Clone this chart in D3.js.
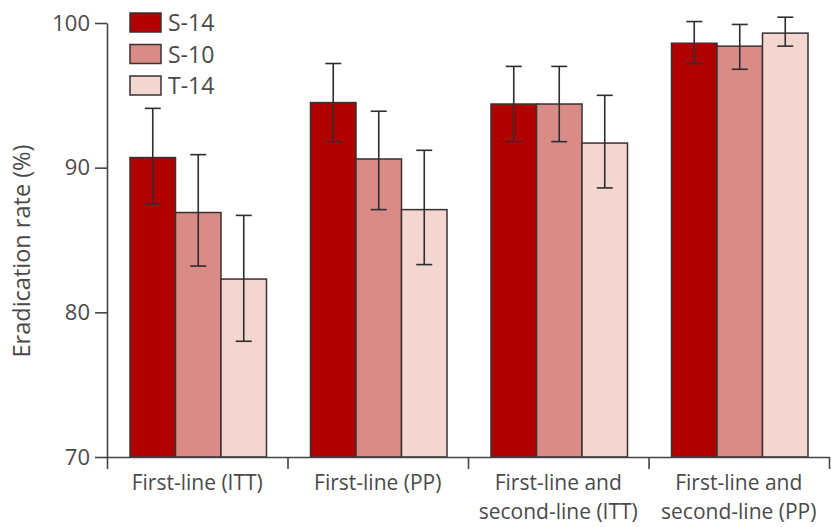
<!DOCTYPE html>
<html>
<head>
<meta charset="utf-8">
<script src="https://cdn.jsdelivr.net/npm/d3@7"></script>
<style>
  html, body { margin: 0; padding: 0; background: #fff; }
  svg { display: block; }
  text { font-family: "Open Sans", "Noto Sans", sans-serif; fill: #4a4a4a; }
</style>
</head>
<body>
<svg id="chart" width="831" height="527"></svg>
<script>
// Treatment groups and their eradication rates with 95% CI bounds
const categories = [
  ["First-line (ITT)"],
  ["First-line (PP)"],
  ["First-line and", "second-line (ITT)"],
  ["First-line and", "second-line (PP)"]
];
const seriesNames = ["S-14", "S-10", "T-14"];
const s14 = [90.7, 94.5, 94.4, 98.6];
const s14Low = [87.5, 91.8, 91.8, 97.2];
const s14High = [94.1, 97.2, 97.0, 100.1];
const s10 = [86.9, 90.6, 94.4, 98.4];
const s10Low = [83.2, 87.1, 91.8, 96.8];
const s10High = [90.9, 93.9, 97.0, 99.9];
const t14 = [82.3, 87.1, 91.7, 99.3];
const t14Low = [78.0, 83.3, 88.6, 98.4];
const t14High = [86.7, 91.2, 95.0, 100.4];
const yTicks = [70, 80, 90, 100];
const yTitle = "Eradication rate (%)";

const colors = ["#b10000", "#d98b86", "#f3d6d0"];
const series = [
  { name: seriesNames[0], values: s14, low: s14Low, high: s14High },
  { name: seriesNames[1], values: s10, low: s10Low, high: s10High },
  { name: seriesNames[2], values: t14, low: t14Low, high: t14High }
];

const svg = d3.select("#chart");
const plotLeft = 107, plotRight = 829, plotTop = 23, plotBottom = 457;
const axisColor = "#454545";

const x0 = d3.scaleBand().domain(d3.range(categories.length)).range([plotLeft, plotRight]).paddingInner(0).paddingOuter(0);
const x1 = d3.scaleBand().domain(d3.range(series.length)).range([0, 136.5]);
const groupOffset = (x0.bandwidth() - 136.5) / 2 + 1;
const y = d3.scaleLinear().domain([70, 100]).range([plotBottom, plotTop]);

// Bars
const groups = svg.append("g").selectAll("g")
  .data(categories.map((c, i) => i))
  .join("g")
  .attr("transform", i => `translate(${x0(i) + groupOffset},0)`);

groups.selectAll("rect")
  .data(i => series.map((s, k) => ({ k, v: s.values[i] })))
  .join("rect")
  .attr("x", d => x1(d.k))
  .attr("y", d => y(d.v))
  .attr("width", x1.bandwidth())
  .attr("height", d => y(70) - y(d.v))
  .attr("fill", d => colors[d.k])
  .attr("stroke", "#3a3030")
  .attr("stroke-width", 1.5);

// Error bars
const capHalf = 8;
const err = groups.selectAll("g.err")
  .data(i => series.map((s, k) => ({ k, lo: s.low[i], hi: s.high[i] })))
  .join("g")
  .attr("class", "err")
  .attr("stroke", "#2e2e2e")
  .attr("stroke-width", 1.6);
err.append("line")
  .attr("x1", d => x1(d.k) + x1.bandwidth() / 2)
  .attr("x2", d => x1(d.k) + x1.bandwidth() / 2)
  .attr("y1", d => y(d.lo))
  .attr("y2", d => y(d.hi));
err.append("line")
  .attr("x1", d => x1(d.k) + x1.bandwidth() / 2 - capHalf)
  .attr("x2", d => x1(d.k) + x1.bandwidth() / 2 + capHalf)
  .attr("y1", d => y(d.hi)).attr("y2", d => y(d.hi));
err.append("line")
  .attr("x1", d => x1(d.k) + x1.bandwidth() / 2 - capHalf)
  .attr("x2", d => x1(d.k) + x1.bandwidth() / 2 + capHalf)
  .attr("y1", d => y(d.lo)).attr("y2", d => y(d.lo));

// Y axis
const yAxis = svg.append("g")
  .attr("transform", `translate(${plotLeft},0)`)
  .call(d3.axisLeft(y).tickValues(yTicks).tickSize(12).tickSizeOuter(0).tickPadding(5));
yAxis.select(".domain").attr("stroke", axisColor).attr("stroke-width", 1.6);
yAxis.selectAll(".tick line").attr("stroke", axisColor).attr("stroke-width", 1.6);
yAxis.selectAll(".tick text")
  .attr("font-size", 22).attr("fill", "#4a4a4a")
  .style("font-family", '"Open Sans", sans-serif');

// X axis: ticks at group boundaries
const xb = d3.scaleLinear().domain([0, categories.length]).range([plotLeft, plotRight]);
const xAxis = svg.append("g")
  .attr("transform", `translate(0,${plotBottom})`)
  .call(d3.axisBottom(xb).tickValues(d3.range(categories.length + 1)).tickFormat("").tickSize(12).tickSizeOuter(0));
xAxis.select(".domain").attr("stroke", axisColor).attr("stroke-width", 1.6);
xAxis.selectAll(".tick line").attr("stroke", axisColor).attr("stroke-width", 1.6);

// Category labels
const labels = svg.append("g").selectAll("text")
  .data(categories)
  .join("text")
  .attr("text-anchor", "middle")
  .attr("font-size", 21)
  .attr("x", (c, i) => x0(i) + x0.bandwidth() / 2)
  .attr("y", plotBottom + 33);
labels.selectAll("tspan")
  .data(c => c)
  .join("tspan")
  .attr("x", function () { return this.parentNode.getAttribute("x"); })
  .attr("dy", (d, j) => j === 0 ? 0 : 28.6)
  .text(d => d);

// Y title
svg.append("text")
  .attr("transform", "translate(30,251) rotate(-90)")
  .attr("text-anchor", "middle")
  .attr("font-size", 23.5)
  .text(yTitle);

// Legend
const legend = svg.append("g").selectAll("g")
  .data(series)
  .join("g")
  .attr("transform", (d, k) => `translate(130,${13 + k * 31.5})`);
legend.append("rect")
  .attr("width", 31).attr("height", 19)
  .attr("fill", (d, k) => colors[k])
  .attr("stroke", "#3a3030").attr("stroke-width", 1.5);
legend.append("text")
  .attr("x", 38).attr("y", 18)
  .attr("font-size", 23)
  .text(d => d.name);
</script>
</body>
</html>
